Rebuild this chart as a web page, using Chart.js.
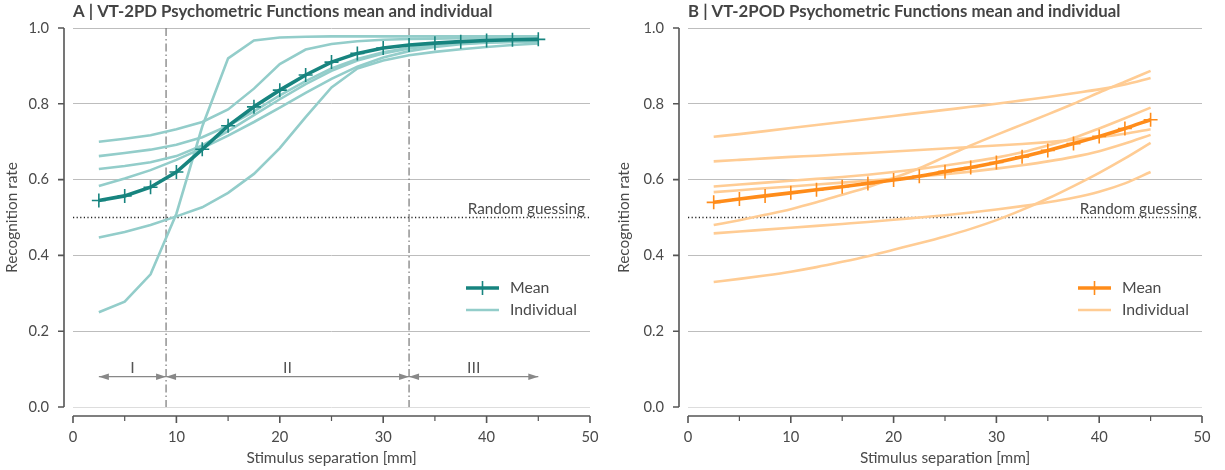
<!DOCTYPE html>
<html>
<head>
<meta charset="utf-8">
<script src="https://cdn.jsdelivr.net/npm/chart.js@4.4.1/dist/chart.umd.min.js"></script>
<style>
  body { margin: 0; background: #fff; }
  .wrap { display: flex; width: 1225px; height: 470px; }
  .panel { position: relative; height: 470px; }
</style>
</head>
<body>
<div class="wrap">
  <div class="panel" style="width:612px"><canvas id="graph-A"></canvas></div>
  <div class="panel" style="width:613px"><canvas id="graph-B"></canvas></div>
</div>
<script>
// separation values (mm)
const separations = [2.5, 5, 7.5, 10, 12.5, 15, 17.5, 20, 22.5, 25, 27.5, 30, 32.5, 35, 37.5, 40, 42.5, 45];

// panel A: VT-2PD
const meanA = [0.545, 0.557, 0.580, 0.620, 0.680, 0.742, 0.792, 0.836, 0.876, 0.910, 0.933, 0.947, 0.955, 0.960, 0.964, 0.967, 0.969, 0.970];
const individualA = [
  [0.700, 0.708, 0.717, 0.733, 0.752, 0.785, 0.840, 0.905, 0.943, 0.958, 0.965, 0.969, 0.971, 0.972, 0.973, 0.974, 0.974, 0.975],
  [0.662, 0.670, 0.679, 0.692, 0.712, 0.742, 0.780, 0.822, 0.860, 0.893, 0.918, 0.936, 0.948, 0.956, 0.961, 0.964, 0.966, 0.967],
  [0.628, 0.636, 0.646, 0.662, 0.690, 0.728, 0.770, 0.812, 0.852, 0.887, 0.914, 0.933, 0.946, 0.954, 0.959, 0.962, 0.964, 0.965],
  [0.583, 0.603, 0.625, 0.652, 0.683, 0.716, 0.752, 0.790, 0.829, 0.866, 0.898, 0.922, 0.939, 0.950, 0.957, 0.961, 0.963, 0.964],
  [0.447, 0.462, 0.480, 0.503, 0.527, 0.565, 0.615, 0.683, 0.765, 0.843, 0.893, 0.914, 0.928, 0.937, 0.944, 0.950, 0.955, 0.959],
  [0.250, 0.278, 0.350, 0.510, 0.740, 0.920, 0.967, 0.975, 0.977, 0.978, 0.978, 0.978, 0.978, 0.978, 0.978, 0.978, 0.978, 0.978]
];

// panel B: VT-2POD
const meanB = [0.540, 0.549, 0.557, 0.565, 0.573, 0.581, 0.590, 0.599, 0.609, 0.621, 0.632, 0.645, 0.660, 0.677, 0.695, 0.714, 0.735, 0.758];
const individualB = [
  [0.713, 0.720, 0.728, 0.736, 0.744, 0.752, 0.760, 0.768, 0.776, 0.784, 0.792, 0.800, 0.809, 0.818, 0.828, 0.838, 0.851, 0.868],
  [0.648, 0.652, 0.656, 0.660, 0.663, 0.667, 0.670, 0.674, 0.678, 0.682, 0.686, 0.690, 0.694, 0.699, 0.705, 0.712, 0.721, 0.733],
  [0.582, 0.587, 0.592, 0.597, 0.602, 0.607, 0.613, 0.620, 0.628, 0.637, 0.647, 0.658, 0.672, 0.690, 0.710, 0.735, 0.762, 0.790],
  [0.567, 0.572, 0.577, 0.582, 0.587, 0.592, 0.597, 0.602, 0.608, 0.614, 0.621, 0.629, 0.638, 0.648, 0.660, 0.675, 0.695, 0.718],
  [0.480, 0.493, 0.507, 0.522, 0.540, 0.560, 0.580, 0.604, 0.630, 0.660, 0.690, 0.718, 0.745, 0.772, 0.800, 0.830, 0.858, 0.887],
  [0.458, 0.463, 0.468, 0.473, 0.478, 0.483, 0.488, 0.494, 0.500, 0.506, 0.513, 0.521, 0.530, 0.540, 0.552, 0.568, 0.590, 0.620],
  [0.330, 0.338, 0.347, 0.357, 0.369, 0.383, 0.398, 0.415, 0.432, 0.450, 0.470, 0.493, 0.520, 0.550, 0.583, 0.618, 0.656, 0.697]
];

// annotations
const guessLevel = 0.5;
const regionBounds = [2.5, 9, 32.5, 45];
const regionLabels = ['I', 'II', 'III'];
const arrowLevel = 0.08;
const yTicks = [0, 0.2, 0.4, 0.6, 0.8, 1.0];
const xMajorTicks = [0, 10, 20, 30, 40, 50];
const xMinorTicks = [5, 15, 25, 35, 45];

const FONT = 'Lato, "DejaVu Sans", sans-serif';
const TXT = '#4a4a4a';

let toPoints = (ys) => ys.map((y, i) => ({ x: separations[i], y: y }));

let arrowHead = (ctx, x, y, dir) => {
  ctx.beginPath();
  ctx.moveTo(x, y);
  ctx.lineTo(x - dir * 10, y - 3.2);
  ctx.lineTo(x - dir * 10, y + 3.2);
  ctx.closePath();
  ctx.fill();
};

const decor = {
  id: 'decor',
  beforeDatasetsDraw(chart, args, opts) {
    const ctx = chart.ctx, ca = chart.chartArea;
    const xs = chart.scales.x, ys = chart.scales.y;
    ctx.save();
    // random guessing line
    ctx.strokeStyle = '#222';
    ctx.lineWidth = 1.3;
    ctx.setLineDash([1.2, 2.4]);
    ctx.beginPath();
    ctx.moveTo(xs.getPixelForValue(0), ys.getPixelForValue(guessLevel));
    ctx.lineTo(xs.getPixelForValue(50), ys.getPixelForValue(guessLevel));
    ctx.stroke();
    ctx.setLineDash([]);
    ctx.fillStyle = TXT;
    ctx.font = '15.3px ' + FONT;
    ctx.textAlign = 'right';
    ctx.textBaseline = 'bottom';
    ctx.fillText('Random guessing', xs.getPixelForValue(50) - 5, ys.getPixelForValue(guessLevel) - 1);

    if (opts.regions) {
      // dash-dot boundaries
      ctx.strokeStyle = '#777';
      ctx.lineWidth = 1.2;
      ctx.setLineDash([8, 3, 1.5, 3]);
      [regionBounds[1], regionBounds[2]].forEach(b => {
        const px = xs.getPixelForValue(b);
        ctx.beginPath();
        ctx.moveTo(px, ca.top);
        ctx.lineTo(px, ca.bottom);
        ctx.stroke();
      });
      ctx.setLineDash([]);
      // arrows
      const ay = ys.getPixelForValue(arrowLevel);
      ctx.strokeStyle = '#888';
      ctx.fillStyle = '#888';
      ctx.lineWidth = 1.2;
      for (let i = 0; i < regionLabels.length; i++) {
        const x1 = xs.getPixelForValue(regionBounds[i]);
        const x2 = xs.getPixelForValue(regionBounds[i + 1]);
        ctx.beginPath();
        ctx.moveTo(x1, ay);
        ctx.lineTo(x2, ay);
        ctx.stroke();
        arrowHead(ctx, x1, ay, -1);
        arrowHead(ctx, x2, ay, 1);
        ctx.fillStyle = '#555';
        ctx.font = '16px ' + FONT;
        ctx.textAlign = 'center';
        ctx.textBaseline = 'middle';
        ctx.fillText(regionLabels[i], (x1 + x2) / 2, ay - 9);
        ctx.fillStyle = '#888';
      }
    }
    ctx.restore();
  },
  afterDraw(chart, args, opts) {
    const ctx = chart.ctx, ca = chart.chartArea;
    const xs = chart.scales.x, ys = chart.scales.y;
    ctx.save();
    // title
    ctx.fillStyle = '#444';
    ctx.font = 'bold 16.8px ' + FONT;
    ctx.textAlign = 'left';
    ctx.textBaseline = 'middle';
    ctx.fillText(opts.title, ca.left, 12);

    // offset spines
    ctx.strokeStyle = '#555';
    ctx.lineWidth = 1.6;
    const sx = ca.left - 9;
    ctx.beginPath();
    ctx.moveTo(sx, ys.getPixelForValue(0));
    ctx.lineTo(sx, ys.getPixelForValue(1));
    yTicks.forEach(v => {
      const py = ys.getPixelForValue(v);
      ctx.moveTo(sx - 6, py);
      ctx.lineTo(sx, py);
    });
    ctx.stroke();
    const sy = ca.bottom + 9;
    ctx.beginPath();
    ctx.moveTo(xs.getPixelForValue(0), sy);
    ctx.lineTo(xs.getPixelForValue(50), sy);
    xMajorTicks.forEach(v => {
      const px = xs.getPixelForValue(v);
      ctx.moveTo(px, sy);
      ctx.lineTo(px, sy + 7);
    });
    ctx.stroke();
    ctx.lineWidth = 1.2;
    ctx.beginPath();
    xMinorTicks.forEach(v => {
      const px = xs.getPixelForValue(v);
      ctx.moveTo(px, sy);
      ctx.lineTo(px, sy + 5);
    });
    ctx.stroke();

    // legend
    const lx = ca.right - 124, ly = 288;
    ctx.strokeStyle = opts.color;
    ctx.lineWidth = 3.6;
    ctx.beginPath();
    ctx.moveTo(lx, ly);
    ctx.lineTo(lx + 33, ly);
    ctx.stroke();
    ctx.lineWidth = 1.6;
    ctx.beginPath();
    ctx.moveTo(lx + 16.5, ly - 7);
    ctx.lineTo(lx + 16.5, ly + 7);
    ctx.stroke();
    ctx.strokeStyle = opts.light;
    ctx.lineWidth = 2.6;
    ctx.beginPath();
    ctx.moveTo(lx, ly + 22);
    ctx.lineTo(lx + 33, ly + 22);
    ctx.stroke();
    ctx.fillStyle = TXT;
    ctx.font = '15.8px ' + FONT;
    ctx.textAlign = 'left';
    ctx.textBaseline = 'middle';
    ctx.fillText('Mean', lx + 44, ly);
    ctx.fillText('Individual', lx + 44, ly + 22);
    ctx.restore();
  }
};

let makeConfig = (mean, individuals, color, light, title, regions, yWidth, rightPad, smooth) => {
  const datasets = [{
    label: 'Mean',
    data: toPoints(mean),
    borderColor: color,
    backgroundColor: color,
    borderWidth: 3.6,
    pointStyle: 'cross',
    pointRadius: 7,
    pointBorderWidth: 1.6,
    pointBorderColor: color,
    cubicInterpolationMode: smooth ? 'monotone' : 'default',
    tension: 0,
    order: 0
  }];
  individuals.forEach((ind, i) => {
    datasets.push({
      label: 'Individual ' + (i + 1),
      data: toPoints(ind),
      borderColor: light,
      borderWidth: 2.6,
      pointRadius: 0,
      cubicInterpolationMode: smooth ? 'monotone' : 'default',
      tension: 0,
      order: 1
    });
  });
  return {
    type: 'line',
    data: { datasets: datasets },
    plugins: [decor],
    options: {
      responsive: true,
      maintainAspectRatio: false,
      animation: false,
      layout: { padding: { top: 28, right: rightPad, left: 0, bottom: 0 } },
      plugins: {
        legend: { display: false },
        tooltip: { enabled: false },
        decor: { title: title, regions: regions, color: color, light: light }
      },
      scales: {
        x: {
          type: 'linear',
          min: 0, max: 50,
          afterFit: (s) => { s.height = 63; s.paddingLeft = 0; s.paddingRight = 0; },
          grid: { display: false, drawTicks: false },
          border: { display: false },
          ticks: { stepSize: 10, padding: 21, color: TXT, font: { family: FONT, size: 14.7 } },
          title: { display: true, text: 'Stimulus separation [mm]', color: TXT, font: { family: FONT, size: 15.4 }, padding: { top: 0, bottom: 3 } }
        },
        y: {
          min: 0, max: 1,
          afterFit: (s) => { s.width = yWidth; s.paddingTop = 0; s.paddingBottom = 0; },
          grid: {
            drawTicks: false,
            color: (c) => c.tick.value === 0 ? '#dddddd' : '#bdbdbd',
            lineWidth: 1
          },
          border: { display: false },
          ticks: { stepSize: 0.2, padding: 24, color: TXT, font: { family: FONT, size: 14.7 }, callback: (v) => v.toFixed(1) },
          title: { display: true, text: 'Recognition rate', color: TXT, font: { family: FONT, size: 15.4 }, padding: { top: 3, bottom: 0 } }
        }
      }
    }
  };
};

const chartA = new Chart(document.querySelector('#graph-A'),
  makeConfig(meanA, individualA, '#17847f', '#93cdca', 'A | VT-2PD Psychometric Functions mean and individual', true, 73, 22, false));
const chartB = new Chart(document.querySelector('#graph-B'),
  makeConfig(meanB, individualB, '#ff8c1a', '#ffcc94', 'B | VT-2POD Psychometric Functions mean and individual', false, 76, 23, true));
</script>
</body>
</html>
